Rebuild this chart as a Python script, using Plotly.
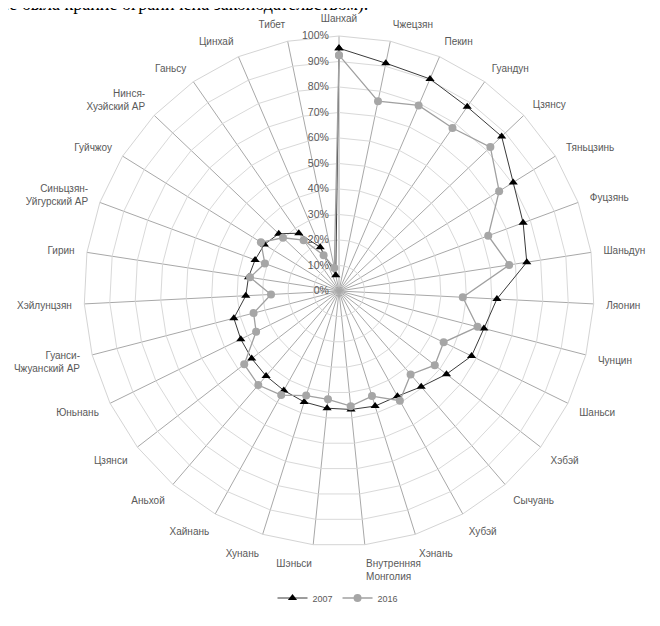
import plotly.graph_objects as go

regions = ["Шанхай", "Чжецзян", "Пекин", "Гуандун", "Цзянсу", "Тяньцзинь", "Фуцзянь",
           "Шаньдун", "Ляонин", "Чунцин", "Шаньси", "Хэбэй", "Сычуань", "Хубэй", "Хэнань",
           "Внутренняя<br>Монголия", "Шэньси", "Хунань", "Хайнань", "Аньхой", "Цзянси",
           "Юньнань", "Гуанси-<br>Чжуанский АР", "Хэйлунцзян", "Гирин",
           "Синьцзян-<br>Уйгурский АР", "Гуйчжоу", "Нинся-<br>Хуэйский АР", "Ганьсу",
           "Цинхай", "Тибет"]

values_2007 = [95.2, 91.2, 90.5, 88.0, 88.0, 80.5, 77.0, 74.5, 62.0, 58.7, 57.9, 53.3,
               49.5, 47.2, 47.3, 46.7, 46.2, 45.6, 44.6, 43.9, 43.3, 42.9, 42.6, 36.6,
               35.9, 35.1, 34.5, 32.6, 27.6, 18.7, 6.3]

values_2016 = [92.5, 76.0, 79.2, 77.9, 81.9, 74.0, 62.4, 67.5, 48.6, 56.1, 45.7, 47.5,
               43.1, 49.2, 43.2, 45.4, 42.7, 43.0, 46.7, 48.6, 47.0, 36.2, 34.6, 26.7,
               35.3, 31.0, 36.1, 30.3, 24.3, 15.3, 9.2]

radial_ticks = [0, 10, 20, 30, 40, 50, 60, 70, 80, 90, 100]
series_names = ["2007", "2016"]

W, H = 660, 626
cx, cy, R = 331, 283, 255

fig = go.Figure()

fig.add_trace(go.Scatterpolar(
    r=values_2007 + values_2007[:1], theta=regions + regions[:1],
    mode="lines+markers", name=series_names[0],
    line=dict(color="#3a3a3a", width=1),
    marker=dict(symbol="triangle-up", size=8, color="#000000"),
))
fig.add_trace(go.Scatterpolar(
    r=values_2016 + values_2016[:1], theta=regions + regions[:1],
    mode="lines+markers", name=series_names[1],
    line=dict(color="#a0a0a0", width=1.3),
    marker=dict(symbol="circle", size=8, color="#a6a6a6"),
))

fig.update_layout(
    width=W, height=H,
    margin=dict(l=0, r=0, t=0, b=0),
    paper_bgcolor="white",
    plot_bgcolor="white",
    font=dict(family="Liberation Sans, Arial, sans-serif", color="#595959", size=10),
    polar=dict(
        domain=dict(x=[(cx - R) / W, (cx + R) / W],
                    y=[(H - cy - R) / H, (H - cy + R) / H]),
        bgcolor="white",
        gridshape="linear",
        angularaxis=dict(
            rotation=90, direction="clockwise",
            categoryorder="array", categoryarray=regions,
            showline=True, linecolor="#d4d4d4", linewidth=1,
            gridcolor="#a8a8a8", gridwidth=1,
            ticks="outside", ticklen=10, tickcolor="rgba(0,0,0,0)",
            tickfont=dict(size=10, color="#595959"),
        ),
        radialaxis=dict(
            range=[0, 100], tickvals=radial_ticks,
            ticktext=[f"{v}%" for v in radial_ticks],
            angle=90, tickangle=90, side="counterclockwise",
            showline=False, gridcolor="#d9d9d9", gridwidth=1,
            ticks="outside", ticklen=6, tickcolor="rgba(0,0,0,0)",
            tickfont=dict(size=10.5, color="#595959"),
        ),
    ),
    legend=dict(
        orientation="h", x=0.5, xanchor="center",
        y=(H - 590) / H, yanchor="middle",
        font=dict(size=9, color="#595959"),
        itemwidth=30,
    ),
    showlegend=True,
)

fig.add_annotation(
    text="се была крайне ограничена законодательством).",
    xref="paper", yref="paper", x=-8 / W, y=(H - 8) / H,
    xanchor="left", yanchor="bottom", showarrow=False, borderpad=0,
    font=dict(family="Liberation Serif, Times New Roman, serif", size=18, color="#000000"),
)

fig.write_html("out.html")
